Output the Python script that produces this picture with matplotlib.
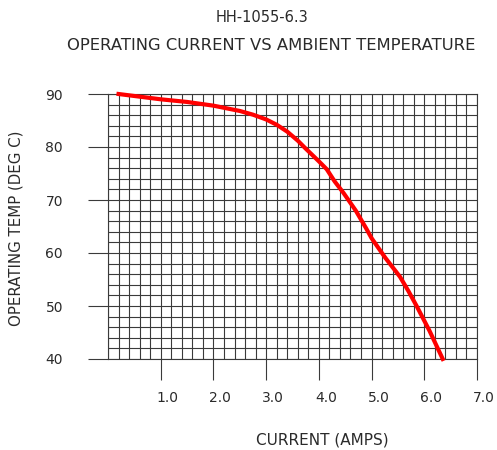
import matplotlib
matplotlib.use('Agg')
import matplotlib.pyplot as plt
from matplotlib.ticker import MultipleLocator, FixedLocator
from matplotlib.transforms import ScaledTranslation

# Curve (current in amps, temperature in deg C)
current = [0.2, 1.0, 1.5, 2.0, 2.5, 2.75, 3.0, 3.2, 3.4, 3.6, 3.75, 4.0, 4.15,
           4.3, 4.47, 4.7, 4.9, 5.0, 5.26, 5.54, 5.7, 5.86, 6.1, 6.35]
temp = [90.0, 89.0, 88.5, 87.8, 86.8, 86.1, 85.2, 84.2, 82.9, 81.2, 79.7, 77.3, 75.8,
        73.5, 71.3, 68.0, 64.6, 62.8, 59.1, 55.5, 52.8, 49.9, 45.3, 40.0]

x_ticks = [1, 2, 3, 4, 5, 6, 7]
x_labels = ['1.0', '2.0', '3.0', '4.0', '5.0', '6.0', '7.0']
y_ticks = [40, 50, 60, 70, 80, 90]

grid_color = '#3a3a3a'
text_color = '#2a2a2a'

fig = plt.figure(figsize=(4.97, 4.5), dpi=100)
ax = fig.add_axes([108 / 497, 91 / 450, 369 / 497, 265 / 450])

ax.set_xlim(0, 7)
ax.set_ylim(40, 90)

# fine grid: 0.2 A by 2 deg
ax.xaxis.set_minor_locator(MultipleLocator(0.2))
ax.yaxis.set_minor_locator(MultipleLocator(2))
ax.xaxis.set_major_locator(FixedLocator(x_ticks))
ax.yaxis.set_major_locator(FixedLocator(y_ticks))
ax.grid(which='both', color=grid_color, linewidth=0.8)
ax.set_axisbelow(True)
for s in ax.spines.values():
    s.set_color(grid_color)
    s.set_linewidth(0.8)

ax.set_xticklabels(x_labels)
ax.tick_params(axis='x', which='major', direction='out', length=15, width=0.8,
               color=grid_color, pad=8, labelsize=10, labelcolor=text_color)
ax.tick_params(axis='y', which='major', direction='out', length=14.4, width=0.8,
               color=grid_color, pad=18, labelsize=10, labelcolor=text_color)
ax.tick_params(which='minor', length=0)

# labels in the reference sit a little right of their ticks
shift = ScaledTranslation(7 / 100, 0, fig.dpi_scale_trans)
for lab in ax.get_xticklabels():
    lab.set_transform(lab.get_transform() + shift)

ax.plot(current, temp, color='#ff0000', linewidth=3, clip_on=False, zorder=5)

xl = ax.set_xlabel('CURRENT (AMPS)', fontsize=11, color=text_color)
xl.set_va('center')
ax.xaxis.set_label_coords(0.58, -0.306)
yl = ax.set_ylabel('OPERATING TEMP (DEG C)', fontsize=10.8, color=text_color)
yl.set_va('center')
ax.yaxis.set_label_coords(-0.249, 0.495)

fig.text(262 / 497, 1 - 17 / 450, 'HH-1055-6.3', ha='center', va='center',
         fontsize=10.5, color=text_color)
fig.text(271 / 497, 1 - 45 / 450, 'OPERATING CURRENT VS AMBIENT TEMPERATURE',
         ha='center', va='center', fontsize=11.8, color=text_color)

fig.savefig('out.png', dpi=100)
